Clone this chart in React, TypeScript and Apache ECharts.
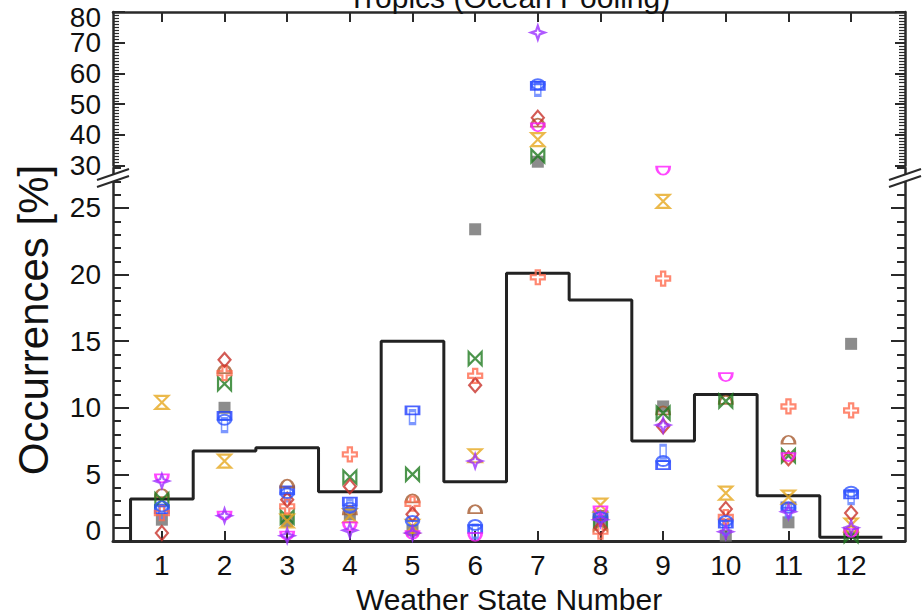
import { useEffect, useRef } from "react";
import * as echarts from "echarts";

const states = [1, 2, 3, 4, 5, 6, 7, 8, 9, 10, 11, 12];
const stepValues = [3.15, 6.75, 7.0, 3.7, 15.0, 4.45, 20.1, 18.1, 7.5, 11.0, 3.4, 0.28];

const graySquare = [1.6, 10.0, 1.5, 2.0, 0.8, 23.4, 31.3, 1.5, 10.1, 0.4, 1.4, 14.8];
const redDiamond = [0.6, 13.6, 3.1, 4.1, 2.0, 11.7, 45.6, 1.0, 8.6, 2.4, 6.2, 2.1];
const tomatoCross = [2.1, 12.6, 2.6, 6.5, 2.8, 12.4, 19.8, 0.7, 19.7, 1.8, 10.1, 9.8];
const greenBowtie = [3.1, 11.8, 1.8, 4.8, 5.0, 13.7, 33.2, 1.3, 9.6, 10.5, 6.4, 0.4];
const goldHourglass = [10.4, 6.0, 1.5, 1.9, 1.1, 6.4, 38.5, 2.7, 25.5, 3.6, 3.3, 1.2];
const blueBar = [2.4, 9.4, 3.8, 2.95, 9.8, 0.9, 56.0, 1.95, 5.7, 1.3, 2.6, 3.5];
const blueColumn = [2.2, 8.7, 3.5, 2.6, 9.3, 0.7, 55.0, 1.7, 6.7, 1.0, 2.3, 3.3];
const magentaCup = [4.7, 1.9, 0.4, 1.1, 0.45, 0.3, 42.5, 2.3, 27.8, 12.3, 6.3, 0.6];
const brownDome = [3.6, 12.9, 4.3, 2.3, 3.2, 2.4, 44.0, 2.0, 9.8, 10.6, 7.6, 0.8];
const purpleStar = [4.5, 1.9, 0.4, 0.8, 0.6, 6.0, 73.3, 1.6, 8.7, 0.7, 2.2, 1.0];
const blueCircle = [2.6, 9.1, 3.6, 2.5, 1.5, 1.2, 56.5, 1.8, 6.0, 1.5, 2.5, 3.7];

const upperLabels = [30, 40, 50, 60, 70];
const lowerMajorTicks = [1, 5, 10, 15, 20, 25];
const lowerLabels = [5, 10, 15, 20, 25];
const rightMajorTicks = [5, 10, 15, 20, 25];
const BREAK = 28;
const UPPER_MAX = 80;

const FONT = "Liberation Sans, Arial, Helvetica, sans-serif";
const AX = "#2a2a2a";

type Marker = {
  name: string;
  values: number[];
  symbol: string;
  size: number | number[];
  color: string;
  filled?: boolean;
};

const markers: Marker[] = [
  { name: "Obs", values: graySquare, symbol: "rect", size: 12, color: "#6f6f6f", filled: true },
  { name: "M1", values: blueColumn, symbol: "path://M0,0 L4,0 L4,10 L0,10 Z", size: [6, 13], color: "#5b7dff" },
  { name: "M2", values: blueBar, symbol: "path://M0,0 L10,0 L10,6 L0,6 Z", size: [13, 8], color: "#1e3cff" },
  { name: "M3", values: brownDome, symbol: "path://M0,5 A5,5 0 0 1 10,5 Z", size: [13, 8], color: "#a65a2e" },
  { name: "M4", values: greenBowtie, symbol: "path://M0,0 L10,10 L10,0 L0,10 Z", size: [13, 13], color: "#1f7a1f" },
  { name: "M5", values: goldHourglass, symbol: "path://M0,0 L10,0 L0,10 L10,10 Z", size: [13, 13], color: "#e6a71e" },
  { name: "M6", values: tomatoCross, symbol: "path://M3.5,0 L6.5,0 L6.5,3.5 L10,3.5 L10,6.5 L6.5,6.5 L6.5,10 L3.5,10 L3.5,6.5 L0,6.5 L0,3.5 L3.5,3.5 Z", size: 14, color: "#ff6a4d" },
  { name: "M7", values: redDiamond, symbol: "path://M5,0 L10,5 L5,10 L0,5 Z", size: [12, 14], color: "#c8322a" },
  { name: "M8", values: magentaCup, symbol: "path://M0,0 L10,0 A5,5 0 0 1 0,0 Z", size: [13, 8], color: "#ff1aff" },
  { name: "M9", values: blueCircle, symbol: "path://M0,5 A5,5 0 1 1 10,5 A5,5 0 1 1 0,5 Z M0,5 L10,5", size: [13, 10], color: "#2f55ff" },
  { name: "M10", values: purpleStar, symbol: "path://M5,0 L6.3,3.7 L10,5 L6.3,6.3 L5,10 L3.7,6.3 L0,5 L3.7,3.7 Z", size: 14, color: "#9b30ff" },
];

function breakMark(x: number, y: number) {
  return [
    {
      type: "polygon",
      z: 100,
      shape: { points: [[x - 16, y + 3], [x + 16, y - 8], [x + 16, y - 1], [x - 16, y + 10]] },
      style: { fill: "#ffffff" },
    },
    { type: "line", z: 101, shape: { x1: x - 16, y1: y + 3, x2: x + 16, y2: y - 8 }, style: { stroke: AX, lineWidth: 2 } },
    { type: "line", z: 101, shape: { x1: x - 16, y1: y + 10, x2: x + 16, y2: y - 1 }, style: { stroke: AX, lineWidth: 2 } },
  ];
}

export default function App() {
  const ref = useRef<HTMLDivElement>(null);

  useEffect(() => {
    if (!ref.current) return;
    const chart = echarts.init(ref.current, null, { renderer: "svg" });

    const stepData: number[][] = [[states[0] - 0.5, 0]];
    states.forEach((s, i) => {
      stepData.push([s - 0.5, stepValues[i]]);
      stepData.push([s + 0.5, stepValues[i]]);
    });

    const series: any[] = [
      {
        type: "line",
        xAxisIndex: 1,
        yAxisIndex: 2,
        data: stepData,
        symbol: "none",
        lineStyle: { color: "#222", width: 3 },
        z: 2,
        silent: true,
      },
    ];

    markers.forEach((m, idx) => {
      const style = m.filled
        ? { color: m.color, borderWidth: 0 }
        : { color: "rgba(0,0,0,0)", borderColor: m.color, borderWidth: 2.2 };
      const lower = states.map((s, i) => [s, m.values[i]]).filter((d) => d[1] <= BREAK);
      const upper = states.map((s, i) => [s, m.values[i]]).filter((d) => d[1] > BREAK);
      series.push({
        name: m.name,
        type: "scatter",
        xAxisIndex: 1,
        yAxisIndex: 2,
        data: lower,
        symbol: m.symbol,
        symbolSize: m.size,
        itemStyle: style,
        z: 3 + idx,
      });
      series.push({
        name: m.name,
        type: "scatter",
        xAxisIndex: 0,
        yAxisIndex: 0,
        data: upper,
        symbol: m.symbol,
        symbolSize: m.size,
        itemStyle: style,
        z: 3 + idx,
      });
    });

    const lineStyle = { color: AX, width: 2.5 };
    const tickStyle = { color: AX, width: 2 };
    const labelStyle = { fontSize: 28, color: "#111", fontFamily: FONT };

    chart.setOption({
      animation: false,
      backgroundColor: "#ffffff",
      grid: [
        { left: 113, top: 12, width: 792, height: 153.7, outerBoundsMode: "none", containLabel: false },
        { left: 113, top: 168, width: 792, height: 373, outerBoundsMode: "none", containLabel: false },
      ],
      xAxis: [
        {
          gridIndex: 0,
          type: "value",
          position: "top",
          min: 0.22,
          max: 12.86,
          axisLine: { show: true, lineStyle },
          axisTick: { show: true, inside: true, length: 10, customValues: states, lineStyle: tickStyle },
          axisLabel: { show: false },
          splitLine: { show: false },
        },
        {
          gridIndex: 1,
          type: "value",
          position: "bottom",
          min: 0.22,
          max: 12.86,
          axisLine: { show: true, lineStyle: { color: AX, width: 3 } },
          axisTick: { show: true, inside: true, length: 10, customValues: states, lineStyle: tickStyle },
          axisLabel: { ...labelStyle, customValues: states, margin: 10 },
          splitLine: { show: false },
          name: "Weather State Number",
          nameLocation: "middle",
          nameGap: 43,
          nameTextStyle: { fontSize: 30, color: "#111", fontFamily: FONT },
        },
      ],
      yAxis: [
        {
          gridIndex: 0,
          type: "value",
          position: "left",
          min: 30,
          max: UPPER_MAX,
          interval: 10,
          axisLine: { show: true, lineStyle },
          axisTick: { show: true, inside: true, length: 12, lineStyle: tickStyle },
          minorTick: { show: true, splitNumber: 10, length: 6, lineStyle: { color: AX, width: 1.2 } },
          axisLabel: { ...labelStyle, margin: 12, customValues: upperLabels },
          splitLine: { show: false },
          minorSplitLine: { show: false },
        },
        {
          gridIndex: 0,
          type: "value",
          position: "right",
          min: 30,
          max: UPPER_MAX,
          interval: 10,
          axisLine: { show: true, lineStyle },
          axisTick: { show: true, inside: true, length: 10, lineStyle: tickStyle },
          minorTick: { show: true, splitNumber: 10, length: 6, lineStyle: { color: AX, width: 1.2 } },
          axisLabel: { show: false },
          splitLine: { show: false },
          minorSplitLine: { show: false },
        },
        {
          gridIndex: 1,
          type: "value",
          position: "left",
          min: 0,
          max: BREAK,
          axisLine: { show: true, lineStyle },
          axisTick: { show: true, inside: true, length: 16, customValues: lowerMajorTicks, lineStyle: tickStyle },
          axisLabel: { ...labelStyle, customValues: lowerLabels, margin: 12 },
          splitLine: { show: false },
        },
        {
          gridIndex: 1,
          type: "value",
          position: "left",
          min: 0,
          max: BREAK,
          interval: 1,
          axisLine: { show: false },
          axisTick: { show: true, inside: true, length: 8, lineStyle: tickStyle },
          axisLabel: { show: false },
          splitLine: { show: false },
        },
        {
          gridIndex: 1,
          type: "value",
          position: "right",
          min: 0,
          max: BREAK,
          axisLine: { show: true, lineStyle },
          axisTick: { show: true, inside: true, length: 14, customValues: rightMajorTicks, lineStyle: tickStyle },
          axisLabel: { show: false },
          splitLine: { show: false },
        },
        {
          gridIndex: 1,
          type: "value",
          position: "right",
          min: 0,
          max: BREAK,
          interval: 1,
          axisLine: { show: false },
          axisTick: { show: true, inside: true, length: 8, lineStyle: tickStyle },
          axisLabel: { show: false },
          splitLine: { show: false },
        },
      ],
      graphic: [
        {
          type: "text",
          x: 509,
          y: 12,
          z: 50,
          style: {
            text: "Tropics (Ocean Pooling)",
            fontSize: 30,
            fontFamily: FONT,
            fill: "#111",
            align: "center",
            verticalAlign: "bottom",
          },
        },
        {
          type: "text",
          x: 101,
          y: 17,
          z: 50,
          style: { text: String(UPPER_MAX), fontSize: 28, fontFamily: FONT, fill: "#111", align: "right", verticalAlign: "middle" },
        },
        {
          type: "text",
          x: 101,
          y: 530,
          z: 50,
          style: { text: "0", fontSize: 28, fontFamily: FONT, fill: "#111", align: "right", verticalAlign: "middle" },
        },
        {
          type: "text",
          x: 33,
          y: 320,
          rotation: Math.PI / 2,
          z: 50,
          style: {
            text: "Occurrences [%]",
            fontSize: 42,
            fontFamily: FONT,
            fill: "#111",
            align: "center",
            verticalAlign: "middle",
          },
        },
        ...breakMark(113, 177),
        ...breakMark(905, 177),
      ],
      series,
    });

    return () => chart.dispose();
  }, []);

  return (
    <div
      ref={ref}
      style={{ position: "fixed", left: 0, top: 0, width: 922, height: 616, background: "#fff" }}
    />
  );
}
